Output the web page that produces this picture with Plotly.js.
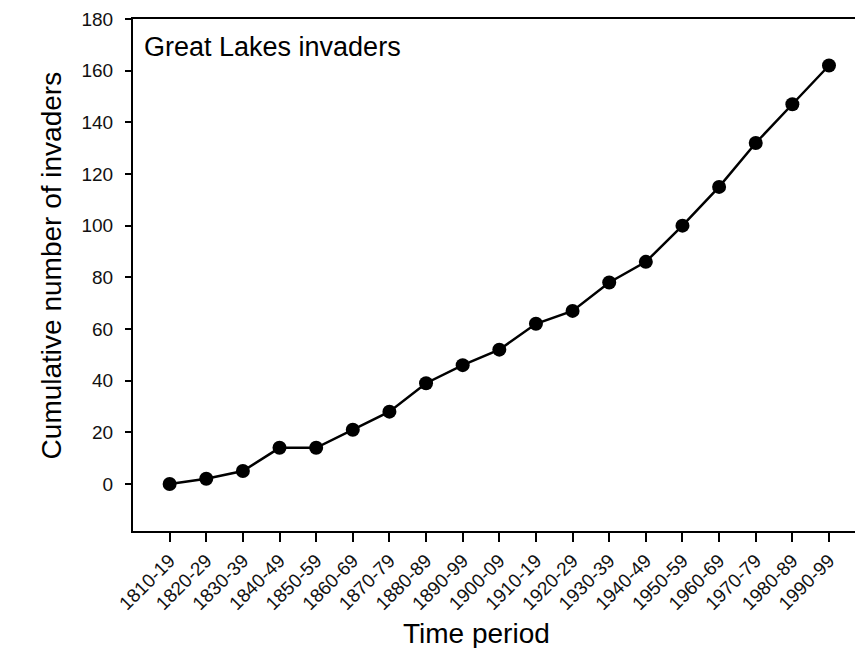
<!DOCTYPE html>
<html>
<head>
<meta charset="utf-8">
<script src="https://cdn.plot.ly/plotly-3.0.1.min.js"></script>
<style>html,body{margin:0;padding:0;background:#fff;}#chart{width:855px;height:648px;}</style>
</head>
<body>
<div id="chart"></div>
<script>
const periods = ["1810-19","1820-29","1830-39","1840-49","1850-59","1860-69","1870-79","1880-89","1890-99","1900-09","1910-19","1920-29","1930-39","1940-49","1950-59","1960-69","1970-79","1980-89","1990-99"];
const invaders = [0, 2, 5, 14, 14, 21, 28, 39, 46, 52, 62, 67, 78, 86, 100, 115, 132, 147, 162];
const yTicks = [0, 20, 40, 60, 80, 100, 120, 140, 160, 180];

const FONT = "Liberation Sans, Arial, Helvetica, sans-serif";

const trace = {
  x: periods.map((p, i) => i),
  y: invaders,
  mode: "lines+markers",
  type: "scatter",
  line: {color: "#000", width: 2.5},
  marker: {color: "#000", size: 14},
  hoverinfo: "x+y"
};

const layout = {
  width: 855, height: 648,
  margin: {l: 133, r: 0, t: 19, b: 117, pad: 0},
  paper_bgcolor: "#fff", plot_bgcolor: "#fff",
  showlegend: false,
  font: {family: FONT, color: "#000", size: 19},
  xaxis: {
    range: [-1, 18.71],
    tickmode: "array",
    tickvals: periods.map((p, i) => i),
    ticktext: periods,
    tickangle: -45,
    ticks: "outside", ticklen: 9, tickwidth: 2, tickcolor: "#000",
    showline: true, linewidth: 2, linecolor: "#000", mirror: true,
    showgrid: false, zeroline: false,
    tickfont: {family: FONT, size: 19, color: "#111"}
  },
  yaxis: {
    range: [-18.2, 180],
    tickmode: "array",
    tickvals: yTicks,
    ticks: "outside", ticklen: 6, tickwidth: 2, tickcolor: "#000",
    ticklabelstandoff: 8,
    showline: true, linewidth: 2, linecolor: "#000", mirror: false,
    showgrid: false, zeroline: false,
    tickfont: {family: FONT, size: 19, color: "#111"}
  },
  annotations: [
    {text: "Great Lakes invaders", xref: "paper", yref: "paper", x: 0.0118, y: 0.945,
     xanchor: "left", yanchor: "middle", showarrow: false, font: {family: FONT, size: 27, color: "#000"}},
    {text: "Time period", xref: "paper", yref: "paper", x: 0.4754, y: -0.2,
     xanchor: "center", yanchor: "middle", showarrow: false, font: {family: FONT, size: 28, color: "#000"}},
    {text: "Cumulative number of invaders", xref: "paper", yref: "paper", x: -0.1116, y: 0.5196,
     xanchor: "center", yanchor: "middle", textangle: -90, showarrow: false, font: {family: FONT, size: 28, color: "#000"}}
  ]
};

Plotly.newPlot("chart", [trace], layout, {displayModeBar: false, staticPlot: true});
</script>
</body>
</html>
